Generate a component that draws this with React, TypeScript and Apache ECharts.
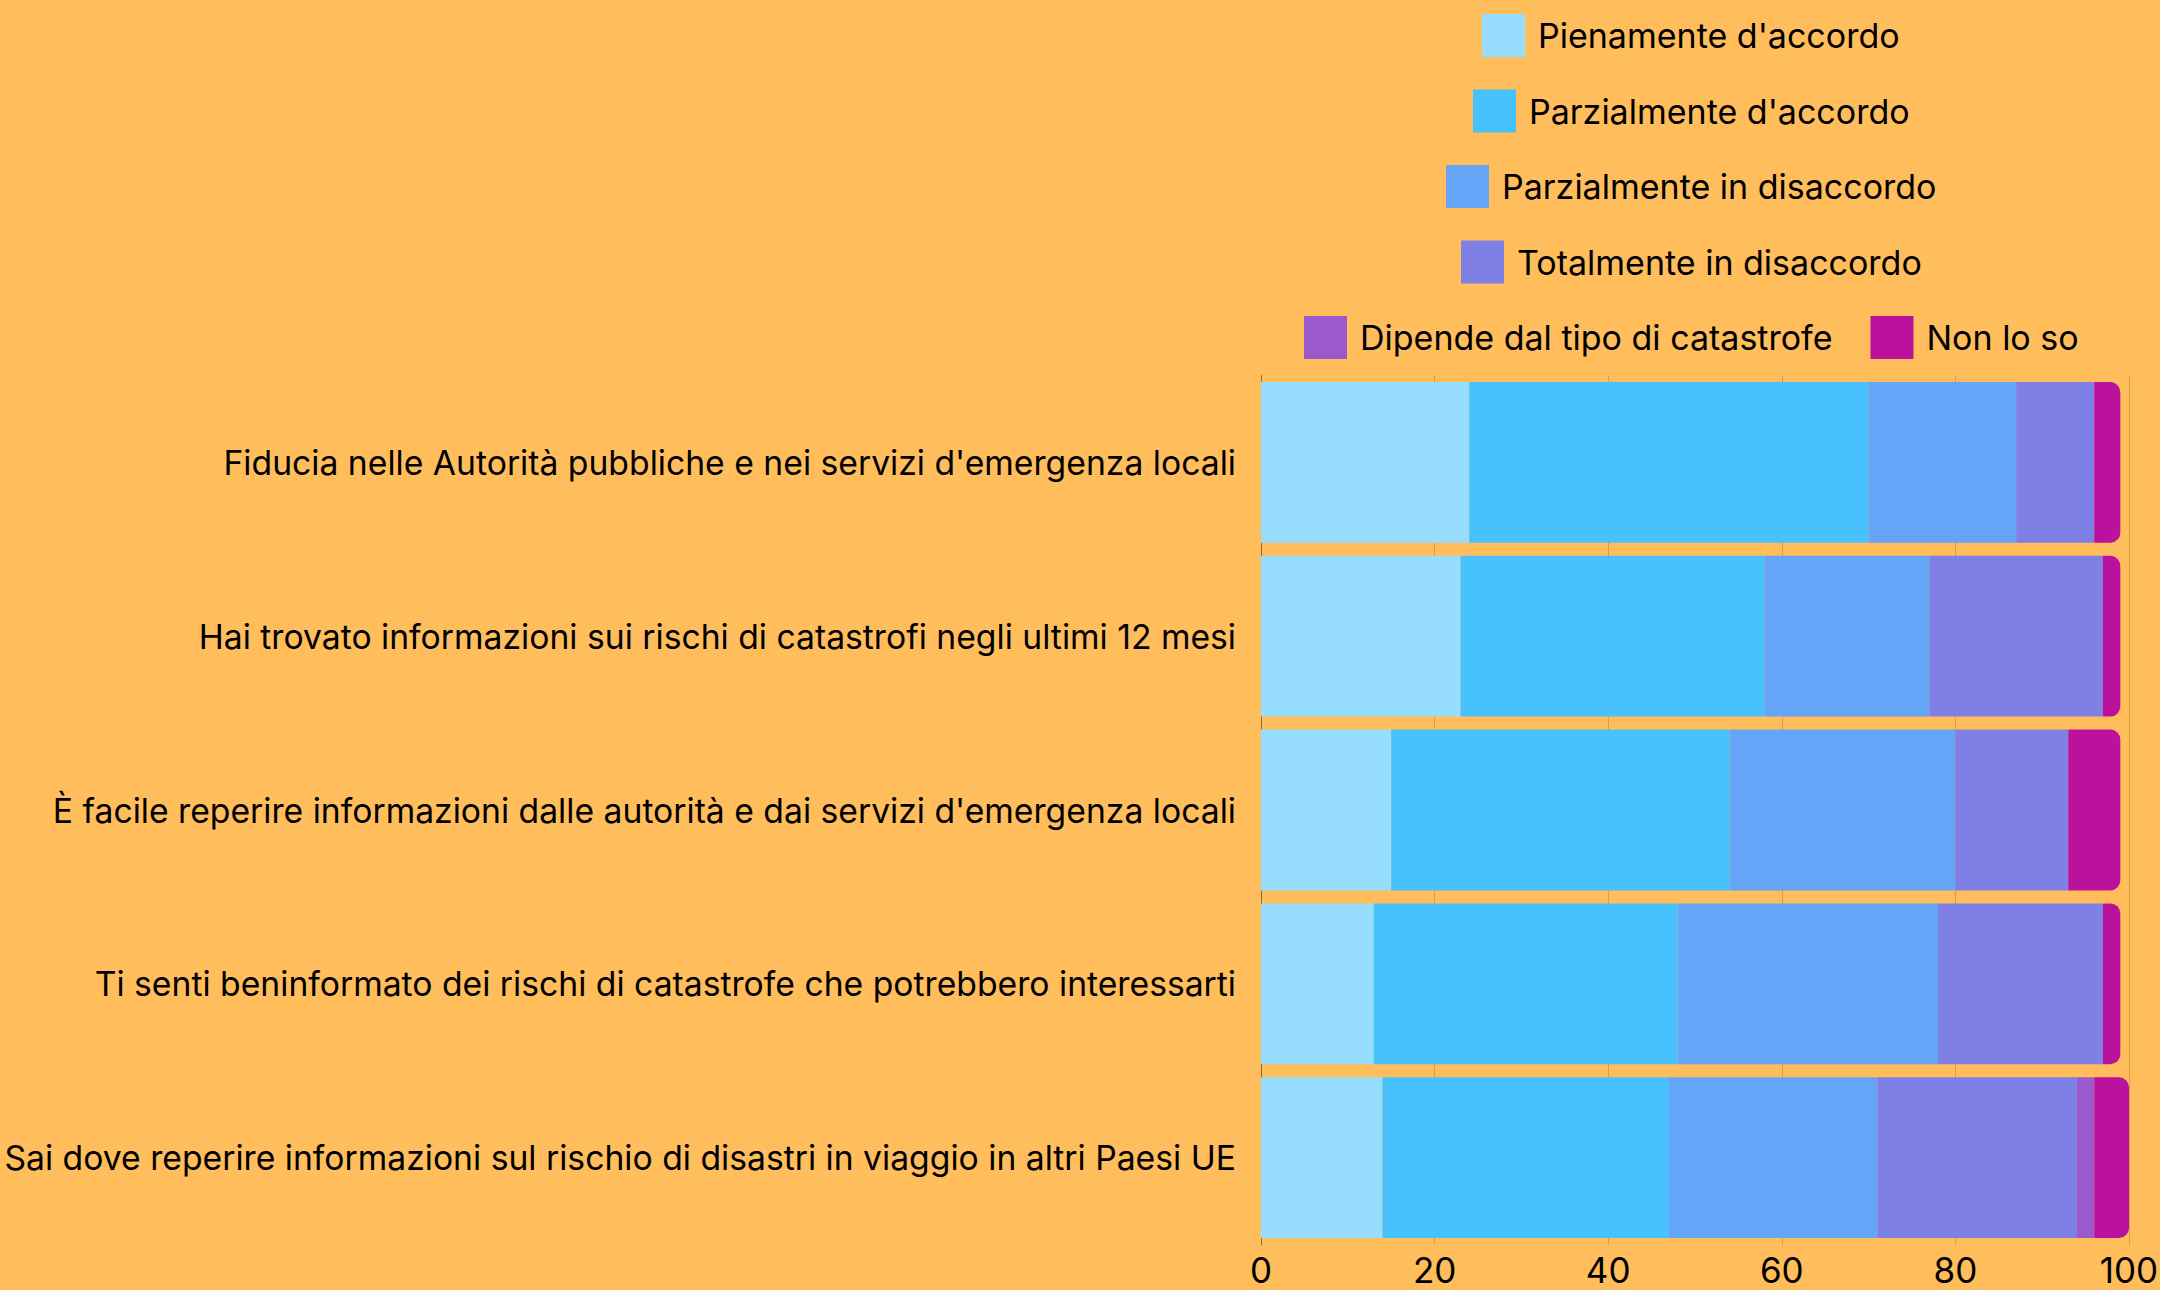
import React, { useEffect, useRef } from "react";
import * as echarts from "echarts";

const categories = [
  "Fiducia nelle Autorità pubbliche e nei servizi d'emergenza locali",
  "Hai trovato informazioni sui rischi di catastrofi negli ultimi 12 mesi",
  "È facile reperire informazioni dalle autorità e dai servizi d'emergenza locali",
  "Ti senti beninformato dei rischi di catastrofe che potrebbero interessarti",
  "Sai dove reperire informazioni sul rischio di disastri in viaggio in altri Paesi UE",
];

const seriesNames = [
  "Pienamente d'accordo",
  "Parzialmente d'accordo",
  "Parzialmente in disaccordo",
  "Totalmente in disaccordo",
  "Dipende dal tipo di catastrofe",
  "Non lo so",
];

const pienamente = [24, 23, 15, 13, 14];
const parzAccordo = [46, 35, 39, 35, 33];
const parzDisaccordo = [17, 19, 26, 30, 24];
const totDisaccordo = [9, 20, 13, 19, 23];
const dipende = [0, 0, 0, 0, 2];
const nonLoSo = [3, 2, 6, 2, 4];

const xTicks = [0, 20, 40, 60, 80, 100];

const colors = ["#97DDFE", "#48C2FE", "#64A5F8", "#7E80E6", "#9B59CC", "#BB129E"];

const legendRows = [
  [seriesNames[0]],
  [seriesNames[1]],
  [seriesNames[2]],
  [seriesNames[3]],
  [seriesNames[4], seriesNames[5]],
];

const FONT = "Inter, 'Noto Sans', sans-serif";
const BG = "#FFBD5C";

export default function App() {
  const ref = useRef<HTMLDivElement>(null);
  useEffect(() => {
    if (!ref.current) return;
    const chart = echarts.init(ref.current, undefined, { renderer: "svg" });

    const legendFont = 34;
    const iconW = 43;
    const textGap = 13;
    const itemGap = 38;
    const canvas = document.createElement("canvas");
    const ctx = canvas.getContext("2d")!;
    ctx.font = `${legendFont}px Inter`;
    const centerX = 1691;
    const rowTops = [14, 89.5, 165, 240.5, 316];

    const legends = legendRows.map((names, i) => {
      let w = 0;
      names.forEach((n, j) => {
        w += iconW + textGap + ctx.measureText(n).width;
        if (j > 0) w += itemGap;
      });
      return {
        data: names,
        top: rowTops[i],
        left: Math.round(centerX - w / 2),
        orient: "horizontal",
        padding: 0,
        itemWidth: iconW,
        itemHeight: iconW,
        itemGap,
        icon: "rect",
        selectedMode: false,
        textStyle: {
          fontSize: legendFont,
          fontFamily: FONT,
          color: "#000",
          padding: [0, 0, 0, textGap - 5],
        },
      };
    });

    const dataArrays = [pienamente, parzAccordo, parzDisaccordo, totDisaccordo, dipende, nonLoSo];

    chart.setOption({
      animation: false,
      backgroundColor: BG,
      legend: legends,
      grid: {
        left: 1261,
        right: 31,
        top: 375.5,
        bottom: 45.5,
        containLabel: false,
        outerBoundsMode: "none",
      },
      xAxis: {
        type: "value",
        min: xTicks[0],
        max: xTicks[xTicks.length - 1],
        interval: 20,
        axisLine: { show: false },
        axisTick: { show: false },
        splitLine: { show: true, lineStyle: { color: "#D49E4E", width: 1 } },
        axisLabel: { fontSize: 35, fontFamily: FONT, color: "#000", margin: 8 },
      },
      yAxis: {
        type: "category",
        inverse: true,
        data: categories,
        axisLine: { show: true, lineStyle: { color: "#8C6A3A", width: 1 } },
        axisTick: { show: false },
        axisLabel: { fontSize: 33.7, fontFamily: FONT, color: "#000", margin: 25 },
      },
      series: seriesNames.map((name, i) => ({
        name,
        type: "bar",
        stack: "total",
        data: dataArrays[i],
        barCategoryGap: "7.5%",
        itemStyle: {
          color: colors[i],
          borderRadius: i === seriesNames.length - 1 ? [0, 10, 10, 0] : 0,
        },
      })),
    });
    return () => chart.dispose();
  }, []);
  return (
    <div
      ref={ref}
      style={{ position: "fixed", left: 0, top: 0, width: 2160, height: 1290, background: BG }}
    />
  );
}
